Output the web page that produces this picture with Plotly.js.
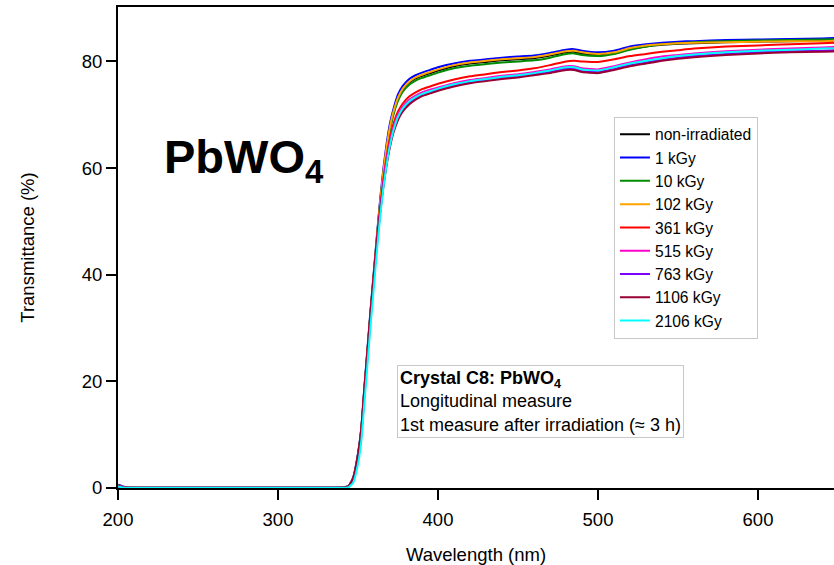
<!DOCTYPE html>
<html>
<head>
<meta charset="utf-8">
<script src="https://cdn.plot.ly/plotly-3.0.1.min.js"></script>
<style>html,body{margin:0;padding:0;background:#fff;}#chart{width:834px;height:565px;}</style>
</head>
<body>
<div id="chart"></div>
<script>
// Wavelength grid (nm)
const wavelength = [200,203,206,210,230,260,290,320,340,344,347,350,352,354,356,358,360,362,364,366,368,370,372,375,378,382,386,390,395,400,410,420,430,440,450,460,470,480,485,490,500,510,520,530,540,550,560,580,600,620,640,650];

// Transmittance (%) per dose
const nonIrradiated = [0.5,0.2,0.1,0.05,0.05,0.05,0.05,0.05,0.1,0.3,1.8,6.2,10.8,18.5,26,33.5,40.5,47.5,54,59.5,64,67.6,70.2,73.0,74.7,76.0,76.8,77.3,77.8,78.3,79.1,79.6,79.9,80.2,80.4,80.6,81.1,81.7,81.8,81.5,81.2,81.5,82.3,82.8,83.1,83.3,83.4,83.6,83.7,83.8,83.9,84.0];
const kGy1 = [0.6,0.3,0.15,0.1,0.05,0.05,0.05,0.05,0.1,0.35,2.0,6.5,11.1,19,26.5,34,41,48,54.6,60.2,64.8,68.4,70.9,73.8,75.4,76.7,77.4,77.9,78.4,78.9,79.6,80.1,80.4,80.7,80.9,81.1,81.6,82.2,82.3,82.0,81.7,82.0,82.8,83.2,83.5,83.7,83.8,84.0,84.1,84.2,84.3,84.4];
const kGy10 = [0.5,0.2,0.1,0.05,0.05,0.05,0.05,0.05,0.1,0.3,1.7,6.0,10.6,18.3,25.8,33.3,40.3,47.3,53.7,59.2,63.6,67.1,69.8,72.6,74.3,75.6,76.4,76.9,77.4,77.9,78.7,79.2,79.5,79.8,80.0,80.2,80.7,81.4,81.5,81.2,81.0,81.4,82.2,82.8,83.2,83.4,83.6,83.8,83.9,84.0,84.1,84.2];
const kGy102 = [0.5,0.2,0.1,0.05,0.05,0.05,0.05,0.05,0.1,0.3,1.8,6.2,10.8,18.5,26.1,33.6,40.6,47.6,54.1,59.7,64.2,67.8,70.4,73.2,74.9,76.2,77.0,77.5,78.0,78.5,79.3,79.8,80.1,80.4,80.6,80.8,81.3,81.9,82.0,81.7,81.4,81.7,82.5,83.0,83.2,83.4,83.5,83.6,83.7,83.8,83.8,83.9];
const kGy361 = [0.4,0.2,0.1,0.05,0.05,0.05,0.05,0.05,0.05,0.2,1.6,5.7,10.1,18,25.5,33,40,47,53,58.2,62.3,65.6,68.1,70.6,72.1,73.4,74.2,74.8,75.3,75.8,76.6,77.2,77.6,78.0,78.3,78.7,79.3,80.0,80.1,80.0,79.9,80.4,81.0,81.4,81.8,82.1,82.4,82.8,83.0,83.2,83.4,83.5];
const kGy515 = [0.4,0.2,0.1,0.05,0.05,0.05,0.05,0.05,0.05,0.2,1.5,5.5,9.9,17.7,25.2,32.7,39.7,46.7,52.5,57.7,61.8,65.0,67.5,70.0,71.5,72.8,73.6,74.2,74.7,75.1,75.9,76.5,76.9,77.3,77.6,78.0,78.5,79.1,79.1,78.7,78.5,79.1,79.8,80.4,80.9,81.2,81.5,81.9,82.2,82.4,82.6,82.7];
const kGy763 = [0.2,0.0,-0.1,0.0,0.05,0.05,0.05,0.05,0.05,0.2,1.4,5.3,9.6,17.3,24.8,32.3,39.3,46.2,52,57.1,61.1,64.3,66.8,69.3,70.9,72.2,73.1,73.7,74.2,74.7,75.5,76.1,76.5,76.9,77.2,77.6,78.0,78.6,78.6,78.2,78.0,78.6,79.3,79.8,80.3,80.7,81.0,81.4,81.7,81.9,82.0,82.1];
const kGy1106 = [0.4,0.2,0.1,0.05,0.05,0.05,0.05,0.05,0.1,0.3,1.9,6.3,10.9,18.7,26.1,33.5,40.3,46.8,52.2,56.9,60.8,64.0,66.5,69.0,70.6,71.9,72.8,73.5,74.0,74.5,75.3,75.9,76.3,76.7,77.0,77.4,77.8,78.4,78.4,78.0,77.8,78.4,79.1,79.6,80.1,80.5,80.8,81.2,81.5,81.7,81.8,81.9];
const kGy2106 = [0.3,0.1,0.05,0.05,0.05,0.05,0.05,0.05,0.05,0.12,1.0,4.5,8.6,16,23.5,31,38,45,51.3,56.6,60.9,64.3,66.9,69.6,71.2,72.5,73.3,73.9,74.4,74.9,75.7,76.3,76.7,77.1,77.4,77.8,78.3,78.9,78.9,78.5,78.3,78.9,79.6,80.1,80.6,81.0,81.3,81.7,82.0,82.2,82.4,82.5];

const seriesNames = ['non-irradiated','1 kGy','10 kGy','102 kGy','361 kGy','515 kGy','763 kGy','1106 kGy','2106 kGy'];
const seriesValues = [nonIrradiated,kGy1,kGy10,kGy102,kGy361,kGy515,kGy763,kGy1106,kGy2106];
const seriesColors = ['#000000','#0000ff','#008c00','#ffa500','#ff0000','#ff00cc','#7f00ff','#990033','#00ffff'];

const FONT = 'Liberation Sans, Arial, Helvetica, sans-serif';

const traces = seriesNames.map((n,i)=>({
  type:'scatter', mode:'lines', name:n,
  x: wavelength, y: seriesValues[i],
  line:{color:seriesColors[i], width:2, shape:'spline', smoothing:0.5}
}));

const layout = {
  width:834, height:565,
  margin:{l:118, r:0, t:7, b:77},
  paper_bgcolor:'#fff', plot_bgcolor:'#fff',
  font:{family:FONT, color:'#000', size:18},
  showlegend:true,
  legend:{x:0.6927, y:0.772, xanchor:'left', yanchor:'top',
    bgcolor:'#fff', bordercolor:'#c8c8c8', borderwidth:1,
    font:{family:FONT, size:15.6, color:'#000'}, tracegroupgap:0},
  xaxis:{range:[200,647.5], showgrid:false, zeroline:false,
    showline:true, linecolor:'#000', linewidth:2, mirror:true,
    ticks:'outside', ticklen:10, tickwidth:2, tickcolor:'#000',
    tickvals:[200,300,400,500,600], tickfont:{size:18.5}, ticklabelstandoff:4,
    title:{text:'Wavelength (nm)', font:{size:18.5}, standoff:19}},
  yaxis:{range:[0,90.2], showgrid:false, zeroline:false,
    showline:true, linecolor:'#000', linewidth:2, mirror:false,
    ticks:'outside', ticklen:10, tickwidth:2, tickcolor:'#000',
    tickvals:[0,20,40,60,80], tickfont:{size:18.5},
    title:{text:'Transmittance (%)', font:{size:18.5}, standoff:42}},
  annotations:[
    {xref:'x', yref:'y', x:227.5, y:61.5, xanchor:'left', yanchor:'middle',
     text:'<b>PbWO<sub>4</sub></b>', showarrow:false,
     font:{family:FONT, size:47, color:'#000'}},
    {xref:'x', yref:'y', x:374.4, y:23.1, xanchor:'left', yanchor:'top', align:'left',
     text:'<b>Crystal C8: PbWO<sub>4</sub></b><br>Longitudinal measure<br>1st measure after irradiation (≈ 3 h)',
     showarrow:false, bgcolor:'#fff', bordercolor:'#c8c8c8', borderwidth:1, borderpad:2,
     font:{family:FONT, size:18, color:'#000'}}
  ]
};

Plotly.newPlot('chart', traces, layout, {displayModeBar:false, staticPlot:true});
</script>
</body>
</html>
